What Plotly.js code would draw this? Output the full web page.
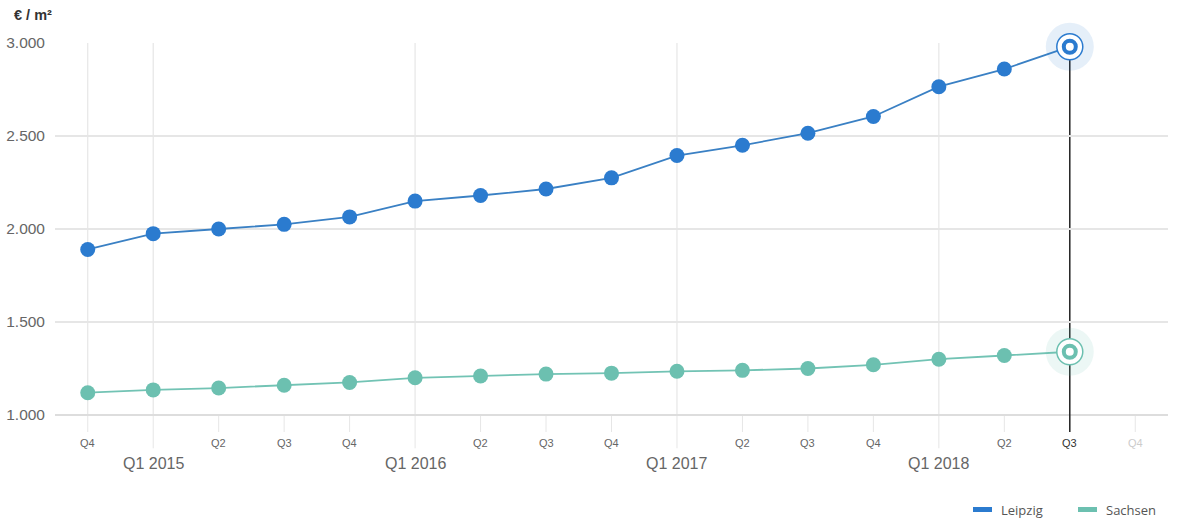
<!DOCTYPE html>
<html>
<head>
<meta charset="utf-8">
<script src="https://cdn.plot.ly/plotly-3.0.1.min.js"></script>
<style>html,body{margin:0;padding:0;background:#fff;}#chart{width:1183px;height:525px;}</style>
</head>
<body>
<div id="chart"></div>
<script>
// Categories (quarters) – index positions on x axis
var quarterLabels = ["Q4", "Q1 2015", "Q2", "Q3", "Q4", "Q1 2016", "Q2", "Q3", "Q4", "Q1 2017", "Q2", "Q3", "Q4", "Q1 2018", "Q2", "Q3", "Q4"];
var isYearStart = [false, true, false, false, false, true, false, false, false, true, false, false, false, true, false, false, false];
var leipzig = [1890, 1975, 2000, 2025, 2065, 2150, 2180, 2215, 2275, 2395, 2450, 2515, 2605, 2765, 2860, 2980];
var sachsen = [1120, 1135, 1145, 1160, 1175, 1200, 1210, 1220, 1225, 1235, 1240, 1250, 1270, 1300, 1320, 1340];
var yTickVals = [1000, 1500, 2000, 2500, 3000];
var yTickText = ["1.000", "1.500", "2.000", "2.500", "3.000"];
var seriesNames = ["Leipzig", "Sachsen"];
var colors = ["#2b7bcf", "#6cc0b0"];
var lineColors = ["#3a80c4", "#72c3b4"];

var xs = leipzig.map(function(_, i){ return i; });
var last = leipzig.length - 1;

var traces = [];
[leipzig, sachsen].forEach(function(vals, k){
  traces.push({
    x: xs, y: vals, type: 'scatter', mode: 'lines+markers', name: seriesNames[k],
    line: {color: lineColors[k], width: 1.8},
    marker: {color: colors[k], size: 15},
    cliponaxis: false, showlegend: false, hoverinfo: 'skip'
  });
});
// highlighted last points
var hlRgba = ["rgba(43,123,207,0.12)", "rgba(108,192,176,0.13)"];
[leipzig, sachsen].forEach(function(vals, k){
  traces.push({x: [last], y: [vals[last]], type: 'scatter', mode: 'markers',
    marker: {color: hlRgba[k], size: 48}, cliponaxis: false, showlegend: false, hoverinfo: 'skip'});
  traces.push({x: [last], y: [vals[last]], type: 'scatter', mode: 'markers',
    marker: {color: '#ffffff', size: 26, line: {color: colors[k], width: 1.5}}, cliponaxis: false, showlegend: false, hoverinfo: 'skip'});
  traces.push({x: [last], y: [vals[last]], type: 'scatter', mode: 'markers',
    marker: {color: '#ffffff', size: 12, line: {color: colors[k], width: 4}}, cliponaxis: false, showlegend: false, hoverinfo: 'skip'});
});

var shapes = [];
var annotations = [];
var gridColor = '#e6e6e6';
quarterLabels.forEach(function(lbl, i){
  // tick marks below axis
  shapes.push({type: 'line', xref: 'x', yref: 'paper', x0: i, x1: i, y0: 0, y1: isYearStart[i] ? -0.0895 : -0.0457,
    line: {color: gridColor, width: 1}, layer: 'below'});
  if (isYearStart[i] || i === 0) {
    shapes.push({type: 'line', xref: 'x', yref: 'paper', x0: i, x1: i, y0: 0, y1: 1,
      line: {color: gridColor, width: 1.2}, layer: 'below'});
  }
  var col = '#666666';
  if (i === last) col = '#333333';
  if (i > last) col = '#cccccc';
  annotations.push({
    x: i, xref: 'x', yref: 'paper', y: isYearStart[i] ? -0.13 : -0.075,
    text: lbl, showarrow: false, xanchor: 'center', yanchor: 'middle',
    font: {family: 'Liberation Sans, Arial, sans-serif', size: isYearStart[i] ? 16 : 11, color: col}
  });
});
// marker line of highlighted quarter
shapes.push({type: 'line', xref: 'x', yref: 'y', x0: last, x1: last, y0: 1000, y1: leipzig[last],
  line: {color: '#222222', width: 1.5}, layer: 'below'});
shapes.push({type: 'line', xref: 'x', yref: 'paper', x0: last, x1: last, y0: 0, y1: -0.0457,
  line: {color: '#222222', width: 1.5}, layer: 'above'});

// y axis title
annotations.push({xref: 'paper', yref: 'paper', x: -0.039, y: 1.076, xanchor: 'left', yanchor: 'middle',
  text: '<b>€ / m²</b>', showarrow: false, font: {family: 'Liberation Sans, Arial, sans-serif', size: 14.5, color: '#333333'}});

// legend (drawn)
var legX = [973, 1078];
var textX = [999, 1104];
seriesNames.forEach(function(n, k){
  shapes.push({type: 'rect', xref: 'paper', yref: 'paper',
    x0: (legX[k] - 55) / 1113, x1: (legX[k] + 19 - 55) / 1113,
    y0: (415 - 512) / 372, y1: (415 - 507) / 372,
    fillcolor: colors[k], line: {width: 0}});
  annotations.push({xref: 'paper', yref: 'paper', x: (textX[k] - 55) / 1113, y: (415 - 510) / 372,
    xanchor: 'left', yanchor: 'middle', text: n, showarrow: false,
    font: {family: 'Open Sans, sans-serif', size: 13, color: '#555555'}});
});

var layout = {
  width: 1183, height: 525,
  margin: {l: 55, r: 15, t: 43, b: 110},
  paper_bgcolor: '#ffffff', plot_bgcolor: '#ffffff',
  showlegend: false,
  xaxis: {range: [-0.5, 16.5], showgrid: false, zeroline: false, showticklabels: false, ticks: '', showline: false, fixedrange: true},
  yaxis: {range: [1000, 3000], tickvals: yTickVals, ticktext: yTickText, gridcolor: gridColor, gridwidth: 1.2,
    zeroline: false, showline: false, ticks: '', ticklabelstandoff: 9,
    tickfont: {family: 'Liberation Sans, Arial, sans-serif', size: 15.5, color: '#666666'}},
  shapes: shapes,
  annotations: annotations
};
// emphasize bottom axis line
layout.shapes.push({type: 'line', xref: 'paper', yref: 'paper', x0: 0, x1: 1, y0: 0, y1: 0, line: {color: '#dddddd', width: 2}, layer: 'below'});

Plotly.newPlot('chart', traces, layout, {displayModeBar: false, staticPlot: true});
</script>
</body>
</html>
